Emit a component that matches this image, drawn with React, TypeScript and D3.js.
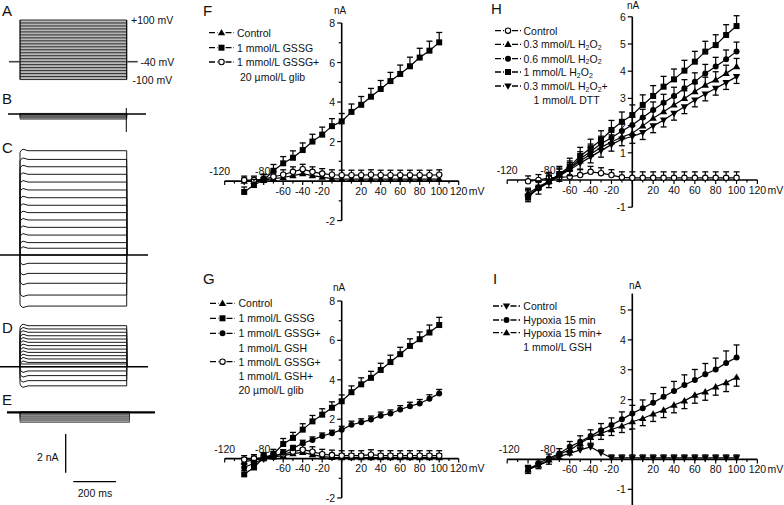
import React from 'react';
import * as d3 from 'd3';

// ---------- data ----------
const VOLTAGES = [-100, -90, -80, -70, -60, -50, -40, -30, -20, -10, 0, 10, 20, 30, 40, 50, 60, 70, 80, 90, 100];

// Panel F
const F_CONTROL = [0.0, 0.0, 0.05, 0.12, 0.18, 0.28, 0.38, 0.28, 0.2, 0.12, 0.1, 0.1, 0.1, 0.1, 0.1, 0.1, 0.1, 0.1, 0.1, 0.1, 0.1];
const F_CONTROL_SEM = [0.15, 0.15, 0.15, 0.18, 0.18, 0.2, 0.2, 0.2, 0.2, 0.2, 0.2, 0.2, 0.2, 0.2, 0.2, 0.2, 0.2, 0.2, 0.2, 0.2, 0.2];
const F_GSSG = [-0.55, -0.2, 0.05, 0.52, 0.9, 1.18, 1.57, 2.0, 2.35, 2.78, 3.02, 3.5, 3.86, 4.27, 4.66, 5.06, 5.42, 5.81, 6.25, 6.6, 7.02];
const F_GSSG_SEM = [0.25, 0.28, 0.3, 0.32, 0.34, 0.35, 0.36, 0.37, 0.38, 0.38, 0.4, 0.4, 0.42, 0.42, 0.43, 0.44, 0.45, 0.46, 0.47, 0.48, 0.5];
const F_GLIB = [0.05, 0.05, 0.1, 0.22, 0.32, 0.47, 0.6, 0.47, 0.38, 0.32, 0.3, 0.3, 0.3, 0.32, 0.3, 0.3, 0.3, 0.3, 0.3, 0.3, 0.32];
const F_GLIB_SEM = [0.2, 0.2, 0.22, 0.25, 0.25, 0.25, 0.25, 0.25, 0.25, 0.25, 0.25, 0.25, 0.25, 0.25, 0.25, 0.25, 0.25, 0.25, 0.25, 0.25, 0.25];

// Panel G
const G_CONTROL = [-0.15, -0.08, 0.0, 0.08, 0.15, 0.25, 0.32, 0.2, 0.1, 0.06, 0.05, 0.05, 0.05, 0.05, 0.05, 0.05, 0.05, 0.05, 0.05, 0.05, 0.05];
const G_CONTROL_SEM = [0.2, 0.2, 0.2, 0.2, 0.2, 0.2, 0.2, 0.2, 0.2, 0.2, 0.2, 0.2, 0.2, 0.2, 0.2, 0.2, 0.2, 0.2, 0.2, 0.2, 0.2];
const G_GSSG = [-0.8, -0.45, 0.05, 0.22, 0.74, 1.05, 1.47, 1.89, 2.23, 2.58, 2.91, 3.37, 3.77, 4.1, 4.5, 4.9, 5.3, 5.72, 6.06, 6.4, 6.78];
const G_GSSG_SEM = [0.2, 0.22, 0.25, 0.25, 0.28, 0.28, 0.3, 0.3, 0.3, 0.3, 0.32, 0.32, 0.33, 0.33, 0.34, 0.35, 0.35, 0.36, 0.37, 0.38, 0.39];
const G_GSH = [-0.45, -0.24, 0.0, 0.1, 0.3, 0.52, 0.78, 0.95, 1.15, 1.29, 1.46, 1.72, 1.84, 1.98, 2.18, 2.29, 2.49, 2.66, 2.8, 3.04, 3.31];
const G_GSH_SEM = [0.15, 0.15, 0.15, 0.15, 0.15, 0.15, 0.15, 0.15, 0.15, 0.15, 0.18, 0.18, 0.18, 0.18, 0.18, 0.18, 0.2, 0.2, 0.2, 0.2, 0.2];
const G_GLIB = [-0.05, 0.0, 0.05, 0.15, 0.22, 0.35, 0.45, 0.35, 0.22, 0.18, 0.15, 0.15, 0.15, 0.2, 0.15, 0.15, 0.15, 0.15, 0.15, 0.15, 0.15];
const G_GLIB_SEM = [0.2, 0.2, 0.2, 0.22, 0.22, 0.25, 0.25, 0.25, 0.25, 0.25, 0.25, 0.25, 0.25, 0.25, 0.25, 0.25, 0.25, 0.25, 0.25, 0.25, 0.25];

// Panel H
const H_CONTROL = [-0.05, 0.0, 0.08, 0.1, 0.12, 0.18, 0.3, 0.25, 0.18, 0.1, 0.08, 0.08, 0.08, 0.08, 0.08, 0.08, 0.08, 0.08, 0.08, 0.08, 0.08];
const H_CONTROL_SEM = [0.2, 0.2, 0.2, 0.2, 0.2, 0.2, 0.2, 0.2, 0.2, 0.2, 0.22, 0.22, 0.22, 0.22, 0.22, 0.22, 0.22, 0.22, 0.22, 0.22, 0.22];
const H_03 = [-0.5, -0.25, -0.05, 0.18, 0.42, 0.7, 0.95, 1.2, 1.4, 1.58, 1.72, 1.99, 2.27, 2.51, 2.76, 3.0, 3.25, 3.49, 3.68, 3.92, 4.17];
const H_03_SEM = [0.2, 0.2, 0.2, 0.22, 0.22, 0.24, 0.25, 0.25, 0.26, 0.26, 0.27, 0.27, 0.28, 0.28, 0.28, 0.28, 0.29, 0.29, 0.3, 0.3, 0.3];
const H_06 = [-0.55, -0.3, -0.06, 0.2, 0.45, 0.78, 1.05, 1.33, 1.55, 1.8, 2.02, 2.3, 2.57, 2.84, 3.09, 3.37, 3.61, 3.92, 4.17, 4.44, 4.72];
const H_06_SEM = [0.2, 0.22, 0.22, 0.24, 0.25, 0.26, 0.27, 0.28, 0.28, 0.29, 0.3, 0.3, 0.3, 0.31, 0.32, 0.32, 0.33, 0.33, 0.34, 0.34, 0.35];
const H_1 = [-0.65, -0.28, -0.05, 0.22, 0.5, 0.88, 1.17, 1.47, 1.84, 2.14, 2.39, 2.76, 3.09, 3.43, 3.7, 4.02, 4.35, 4.72, 4.96, 5.33, 5.66];
const H_1_SEM = [0.25, 0.25, 0.27, 0.28, 0.3, 0.32, 0.33, 0.34, 0.35, 0.36, 0.37, 0.37, 0.38, 0.38, 0.38, 0.38, 0.38, 0.38, 0.38, 0.38, 0.38];
const H_DTT = [-0.6, -0.32, -0.08, 0.15, 0.38, 0.62, 0.85, 1.08, 1.3, 1.5, 1.6, 1.74, 1.99, 2.2, 2.45, 2.69, 2.94, 3.16, 3.37, 3.58, 3.8];
const H_DTT_SEM = [0.2, 0.2, 0.2, 0.2, 0.22, 0.22, 0.22, 0.24, 0.24, 0.24, 0.25, 0.25, 0.25, 0.25, 0.25, 0.25, 0.25, 0.25, 0.25, 0.25, 0.25];

// Panel I
const I_CONTROL = [-0.3, -0.2, -0.05, 0.1, 0.2, 0.32, 0.42, 0.22, 0.05, 0.05, 0.05, 0.05, 0.05, 0.05, 0.05, 0.05, 0.05, 0.05, 0.05, 0.05, 0.05];
const I_CONTROL_SEM = [0.1, 0.1, 0.1, 0.1, 0.1, 0.1, 0.1, 0.1, 0.1, 0.1, 0.1, 0.1, 0.1, 0.1, 0.1, 0.1, 0.1, 0.1, 0.1, 0.1, 0.1];
const I_HYPOXIA = [-0.35, -0.13, 0.04, 0.2, 0.42, 0.59, 0.78, 0.98, 1.15, 1.34, 1.54, 1.71, 1.9, 2.1, 2.29, 2.49, 2.66, 2.85, 3.01, 3.23, 3.41];
const I_HYPOXIA_SEM = [0.1, 0.12, 0.14, 0.16, 0.18, 0.2, 0.21, 0.22, 0.24, 0.25, 0.27, 0.28, 0.3, 0.31, 0.32, 0.34, 0.35, 0.36, 0.38, 0.4, 0.42];
const I_GSH = [-0.35, -0.19, -0.02, 0.18, 0.31, 0.54, 0.74, 0.87, 1.0, 1.12, 1.26, 1.37, 1.52, 1.65, 1.82, 1.96, 2.15, 2.26, 2.43, 2.57, 2.75];
const I_GSH_SEM = [0.12, 0.12, 0.14, 0.15, 0.16, 0.18, 0.2, 0.2, 0.2, 0.22, 0.24, 0.24, 0.25, 0.25, 0.26, 0.26, 0.27, 0.28, 0.28, 0.3, 0.3];

// Trace panels (A–E)
const A_STEPS_MV = [100, 90, 80, 70, 60, 50, 40, 30, 20, 10, 0, -10, -20, -30, -40, -50, -60, -70, -80, -90, -100];
const B_LEVELS_NA = [0.03, 0.0, -0.05, -0.1, -0.15, -0.2, -0.27];
const C_LEVELS_NA = [5.39, 4.94, 4.56, 4.17, 3.77, 3.36, 2.96, 2.57, 2.19, 1.81, 1.43, 1.03, 0.64, 0.35, 0, -0.43, -0.95, -1.46, -2.07, -2.64];
const D_LEVELS_NA = [2.12, 1.95, 1.78, 1.6, 1.43, 1.26, 1.09, 0.91, 0.74, 0.57, 0.4, 0.22, 0.14, 0, -0.22, -0.46, -0.72, -0.99];
const E_LEVELS_NA = [0.03, 0.0, -0.1, -0.2, -0.3, -0.4, -0.52];

const FONT = '"Liberation Sans", Arial, Helvetica, sans-serif';

type Marker = 'tri' | 'itri' | 'square' | 'circle' | 'ocircle';

function Sym({ type, x, y }: { type: Marker; x: number; y: number }) {
  switch (type) {
    case 'square':
      return <rect x={x - 3} y={y - 3} width={6} height={6} fill="#000" />;
    case 'circle':
      return <circle cx={x} cy={y} r={3} fill="#000" />;
    case 'ocircle':
      return <circle cx={x} cy={y} r={2.7} fill="#fff" stroke="#000" strokeWidth={1.1} />;
    case 'tri':
      return <path d={`M${x},${y - 3.8}L${x + 3.7},${y + 2.6}L${x - 3.7},${y + 2.6}Z`} fill="#000" />;
    case 'itri':
      return <path d={`M${x},${y + 3.8}L${x + 3.7},${y - 2.6}L${x - 3.7},${y - 2.6}Z`} fill="#000" />;
  }
  return null;
}

function Label({ text, x, y, anchor = 'start', size = 10.5 }: { text: string; x: number; y: number; anchor?: string; size?: number }) {
  const parts = text.split('H2O2');
  if (parts.length === 1) {
    return (
      <text x={x} y={y} fontSize={size} fontFamily={FONT} textAnchor={anchor} dominantBaseline="central" fill="#111">
        {text}
      </text>
    );
  }
  return (
    <text x={x} y={y} fontSize={size} fontFamily={FONT} textAnchor={anchor} dominantBaseline="central" fill="#111">
      {parts[0]}H
      <tspan dy={2.5} fontSize={7}>2</tspan>
      <tspan dy={-2.5}>O</tspan>
      <tspan dy={2.5} fontSize={7}>2</tspan>
      <tspan dy={-2.5}>{parts[1]}</tspan>
    </text>
  );
}

interface Series { values: number[]; sem: number[]; marker: Marker; down?: boolean }
interface LegendEntry { lines: string[]; marker: Marker; y: number }
interface PanelCfg {
  letter: string; letterPos: [number, number];
  xRange: [number, number]; yDomain: [number, number]; yRange: [number, number];
  yAxisExtent: [number, number];
  yLabels: number[]; yMinor: number[];
  nAPos: [number, number];
  series: Series[];
  legend: { x1: number; x2: number; tx: number; indent: number; lh: number; entries: LegendEntry[] };
  topLabelShift: number;
}

const X_BOTTOM_LABELS = [-60, -40, -20, 20, 40, 60, 80, 100];
const X_TICKS = [-120, -110, -100, -90, -80, -70, -60, -50, -40, -30, -20, -10, 0, 10, 20, 30, 40, 50, 60, 70, 80, 90, 100, 110, 120];

function IVPanel({ cfg }: { cfg: PanelCfg }) {
  const x = d3.scaleLinear().domain([-120, 120]).range(cfg.xRange);
  const y = d3.scaleLinear().domain(cfg.yDomain).range(cfg.yRange);
  const x0 = x(0);
  const y0 = y(0);
  const line = d3.line<[number, number]>().x((d) => x(d[0])).y((d) => y(d[1]));
  const { legend } = cfg;
  return (
    <g>
      <text x={cfg.letterPos[0]} y={cfg.letterPos[1]} fontSize={15} fontFamily={FONT} dominantBaseline="central" fill="#111">
        {cfg.letter}
      </text>
      {/* axes */}
      <line x1={x(-120)} x2={x(120)} y1={y0} y2={y0} stroke="#000" strokeWidth={1.6} />
      <line x1={x0} x2={x0} y1={y(cfg.yAxisExtent[1])} y2={y(cfg.yAxisExtent[0])} stroke="#000" strokeWidth={1.6} />
      {X_TICKS.map((t) => (
        <line key={'xt' + t} x1={x(t)} x2={x(t)} y1={y0} y2={y0 + (t % 20 === 0 ? 4 : 2.5)} stroke="#000" strokeWidth={1.2} />
      ))}
      {cfg.yLabels.concat(cfg.yMinor).map((t) => (
        <line key={'yt' + t} x1={x0 - (cfg.yLabels.includes(t) ? 4.5 : 3)} x2={x0} y1={y(t)} y2={y(t)} stroke="#000" strokeWidth={1.2} />
      ))}
      {cfg.yLabels.map((t) => (
        <text key={'yl' + t} x={x0 - 6.5} y={y(t)} fontSize={10.5} fontFamily={FONT} textAnchor="end" dominantBaseline="central" fill="#111">
          {t}
        </text>
      ))}
      <text x={cfg.nAPos[0]} y={cfg.nAPos[1]} fontSize={10} fontFamily={FONT} textAnchor="middle" dominantBaseline="central" fill="#111">nA</text>
      {X_BOTTOM_LABELS.map((t) => (
        <text key={'xl' + t} x={x(t)} y={y0 + 9.5} fontSize={10.5} fontFamily={FONT} textAnchor="middle" dominantBaseline="central" fill="#111">
          {t}
        </text>
      ))}
      <text x={x(120)} y={y0 + 9.5} fontSize={10.5} fontFamily={FONT} textAnchor="middle" dominantBaseline="central" fill="#111">120</text>
      <text x={x(120) + 10} y={y0 + 9.5} fontSize={10.5} fontFamily={FONT} textAnchor="start" dominantBaseline="central" fill="#111">mV</text>
      <text x={x(-120) + cfg.topLabelShift} y={y0 - 10} fontSize={10.5} fontFamily={FONT} textAnchor="middle" dominantBaseline="central" fill="#111">-120</text>
      <text x={x(-80) - 1} y={y0 - 10} fontSize={10.5} fontFamily={FONT} textAnchor="middle" dominantBaseline="central" fill="#111">-80</text>
      {/* series */}
      {cfg.series.map((s, si) => {
        const pts: [number, number][] = VOLTAGES.map((v, i) => [v, s.values[i]]);
        return (
          <g key={'s' + si}>
            <path d={line(pts) || ''} fill="none" stroke="#000" strokeWidth={1.2} />
            {VOLTAGES.map((v, i) => {
              const yv = y(s.values[i]);
              const ye = y(s.values[i] + (s.down ? -s.sem[i] : s.sem[i]));
              return (
                <g key={'e' + i}>
                  <line x1={x(v)} x2={x(v)} y1={yv} y2={ye} stroke="#000" strokeWidth={1.2} />
                  <line x1={x(v) - 3} x2={x(v) + 3} y1={ye} y2={ye} stroke="#000" strokeWidth={1.3} />
                </g>
              );
            })}
            {VOLTAGES.map((v, i) => (
              <Sym key={'m' + i} type={s.marker} x={x(v)} y={y(s.values[i])} />
            ))}
          </g>
        );
      })}
      {/* legend */}
      {legend.entries.map((e, ei) => {
        const mx = (legend.x1 + legend.x2) / 2;
        return (
          <g key={'lg' + ei}>
            <line x1={legend.x1} x2={mx - 4} y1={e.y} y2={e.y} stroke="#000" strokeWidth={1.3} strokeDasharray="6,2" />
            <line x1={mx + 4} x2={legend.x2} y1={e.y} y2={e.y} stroke="#000" strokeWidth={1.3} strokeDasharray="6,2" />
            <Sym type={e.marker} x={mx} y={e.y} />
            {e.lines.map((l, li) => (
              <Label key={li} text={l} x={legend.tx + (li > 0 ? legend.indent : 0)} y={e.y + li * legend.lh} />
            ))}
          </g>
        );
      })}
    </g>
  );
}

const PANELS: PanelCfg[] = [
  {
    letter: 'F', letterPos: [203, 10],
    xRange: [224.7, 458.7], yDomain: [-2, 8], yRange: [220.6, 23], yAxisExtent: [-2, 8],
    yLabels: [8, 6, 4, 2, -2], yMinor: [7, 5, 3, 1, -1],
    nAPos: [340, 10],
    series: [
      { values: F_CONTROL, sem: F_CONTROL_SEM, marker: 'tri' },
      { values: F_GLIB, sem: F_GLIB_SEM, marker: 'ocircle' },
      { values: F_GSSG, sem: F_GSSG_SEM, marker: 'square' },
    ],
    legend: {
      x1: 209, x2: 234, tx: 237, indent: 3, lh: 15,
      entries: [
        { lines: ['Control'], marker: 'tri', y: 32.7 },
        { lines: ['1 mmol/L GSSG'], marker: 'square', y: 47.7 },
        { lines: ['1 mmol/L GSSG+', '20 µmol/L glib'], marker: 'ocircle', y: 62 },
      ],
    },
    topLabelShift: -5,
  },
  {
    letter: 'H', letterPos: [491, 8],
    xRange: [507.2, 757.4], yDomain: [-1, 6], yRange: [207.2, 16.8], yAxisExtent: [-1, 6],
    yLabels: [6, 5, 4, 3, 2, 1, -1], yMinor: [],
    nAPos: [633, 5],
    series: [
      { values: H_CONTROL, sem: H_CONTROL_SEM, marker: 'ocircle' },
      { values: H_DTT, sem: H_DTT_SEM, marker: 'itri', down: true },
      { values: H_03, sem: H_03_SEM, marker: 'tri' },
      { values: H_06, sem: H_06_SEM, marker: 'circle' },
      { values: H_1, sem: H_1_SEM, marker: 'square' },
    ],
    legend: {
      x1: 495, x2: 521, tx: 523.5, indent: 10, lh: 14,
      entries: [
        { lines: ['Control'], marker: 'ocircle', y: 30.7 },
        { lines: ['0.3 mmol/L H2O2'], marker: 'tri', y: 44.3 },
        { lines: ['0.6 mmol/L H2O2'], marker: 'circle', y: 58.7 },
        { lines: ['1 mmol/L H2O2'], marker: 'square', y: 72 },
        { lines: ['0.3 mmol/L H2O2+', '1 mmol/L DTT'], marker: 'itri', y: 86 },
      ],
    },
    topLabelShift: 0,
  },
  {
    letter: 'G', letterPos: [203, 278],
    xRange: [224.7, 458.7], yDomain: [-2, 8], yRange: [498, 301], yAxisExtent: [-2, 8],
    yLabels: [8, 6, 4, 2, -2], yMinor: [7, 5, 3, 1, -1],
    nAPos: [339, 287],
    series: [
      { values: G_CONTROL, sem: G_CONTROL_SEM, marker: 'tri' },
      { values: G_GLIB, sem: G_GLIB_SEM, marker: 'ocircle' },
      { values: G_GSH, sem: G_GSH_SEM, marker: 'circle' },
      { values: G_GSSG, sem: G_GSSG_SEM, marker: 'square' },
    ],
    legend: {
      x1: 210, x2: 235, tx: 238.5, indent: 0, lh: 14.2,
      entries: [
        { lines: ['Control'], marker: 'tri', y: 303.3 },
        { lines: ['1 mmol/L GSSG'], marker: 'square', y: 318.3 },
        { lines: ['1 mmol/L GSSG+', '1 mmol/L GSH'], marker: 'circle', y: 333.3 },
        { lines: ['1 mmol/L GSSG+', '1 mmol/L GSH+', '20 µmol/L glib'], marker: 'ocircle', y: 361.7 },
      ],
    },
    topLabelShift: 0,
  },
  {
    letter: 'I', letterPos: [493, 278],
    xRange: [507.2, 757.4], yDomain: [-1, 5], yRange: [489.3, 310], yAxisExtent: [-1.55, 5.55],
    yLabels: [5, 4, 3, 2, -1], yMinor: [1],
    nAPos: [635, 285],
    series: [
      { values: I_CONTROL, sem: I_CONTROL_SEM, marker: 'itri' },
      { values: I_GSH, sem: I_GSH_SEM, marker: 'tri', down: true },
      { values: I_HYPOXIA, sem: I_HYPOXIA_SEM, marker: 'circle' },
    ],
    legend: {
      x1: 493, x2: 520, tx: 523.3, indent: 0, lh: 14,
      entries: [
        { lines: ['Control'], marker: 'itri', y: 306 },
        { lines: ['Hypoxia 15 min'], marker: 'circle', y: 320 },
        { lines: ['Hypoxia 15 min+', '1 mmol/L GSH'], marker: 'tri', y: 332.7 },
      ],
    },
    topLabelShift: 2,
  },
];

// ---------- trace panels ----------
const tScale = d3.scaleLinear().domain([0, 500]).range([20, 126.7]);
const NA_PX = 19.35;

function TracePanel({ levels, base, xStart, xEnd, band, curl, endX, baseWidth = 1.4 }: { levels: number[]; base: number; xStart: number; xEnd: number; band?: boolean; curl?: boolean; endX?: number; baseWidth?: number }) {
  const yS = d3.scaleLinear().domain([0, 1]).range([base, base - NA_PX]);
  const xa = tScale(0);
  const xb = endX ?? tScale(500);
  const top = Math.min(...levels.map((l) => yS(l)));
  const bot = Math.max(...levels.map((l) => yS(l)));
  return (
    <g>
      {band && <rect x={xa} y={top} width={xb - xa} height={bot - top} fill="#a8a8a8" />}
      {levels.map((l, i) => {
        const yl = yS(l);
        const c = curl && Math.abs(l) > 0.2 ? (l > 0 ? -1.5 : 1.5) : 0;
        const d = c
          ? `M${xa},${base}L${xa},${yl + (l > 0 ? 2 : -2)}Q${xa},${yl} ${xa + 3},${yl + c}L${xa + 8},${yl}L${xb},${yl}L${xb},${base}`
          : `M${xa},${base}L${xa},${yl}L${xb},${yl}L${xb},${base}`;
        return <path key={i} d={d} fill="none" stroke={band ? '#333' : '#1a1a1a'} strokeWidth={band ? 0.7 : 1} />;
      })}
      <line x1={xStart} x2={xEnd} y1={base} y2={base} stroke="#000" strokeWidth={baseWidth} />
    </g>
  );
}

function PanelA() {
  const yV = d3.scaleLinear().domain([-40, 100]).range([61.7, 20]);
  const xa = tScale(0);
  const xb = tScale(500);
  return (
    <g>
      <rect x={xa} y={yV(100)} width={xb - xa} height={yV(-100) - yV(100)} fill="#b8b8b8" />
      {A_STEPS_MV.map((v) => (
        <line key={v} x1={xa} x2={xb} y1={yV(v)} y2={yV(v)} stroke="#2a2a2a" strokeWidth={1} />
      ))}
      <line x1={xa} x2={xa} y1={yV(100)} y2={yV(-100)} stroke="#000" strokeWidth={1.2} />
      <line x1={xb} x2={xb} y1={yV(100)} y2={yV(-100)} stroke="#000" strokeWidth={1.2} />
      <line x1={9} x2={xa} y1={yV(-40)} y2={yV(-40)} stroke="#444" strokeWidth={1.6} />
      <line x1={xb} x2={137.7} y1={yV(-40)} y2={yV(-40)} stroke="#444" strokeWidth={1.6} />
      <text x={131} y={yV(100)} fontSize={10.5} fontFamily={FONT} dominantBaseline="central" fill="#111">+100 mV</text>
      <text x={140.5} y={yV(-40)} fontSize={10.5} fontFamily={FONT} dominantBaseline="central" fill="#111">-40 mV</text>
      <text x={132.5} y={yV(-100)} fontSize={10.5} fontFamily={FONT} dominantBaseline="central" fill="#111">-100 mV</text>
    </g>
  );
}

function App() {
  const letters: [string, number][] = [['A', 10], ['B', 98], ['C', 147], ['D', 327], ['E', 399]];
  return (
    <svg width={784} height={505} style={{ position: 'absolute', left: 0, top: 0, background: '#fff' }}>
      <rect x={0} y={0} width={784} height={505} fill="#fff" />
      {letters.map(([l, yy]) => (
        <text key={l} x={2} y={yy} fontSize={15} fontFamily={FONT} dominantBaseline="central" fill="#111">{l}</text>
      ))}
      <PanelA />
      <TracePanel levels={B_LEVELS_NA} base={114} xStart={8} xEnd={146} band />
      <line x1={126.3} x2={126.3} y1={108} y2={132} stroke="#000" strokeWidth={1} />
      <TracePanel levels={C_LEVELS_NA} base={255} xStart={0} xEnd={148} curl />
      <TracePanel levels={D_LEVELS_NA} base={366.7} xStart={0} xEnd={148} curl />
      <TracePanel levels={E_LEVELS_NA} base={412.3} xStart={7} xEnd={155} band endX={129.5} baseWidth={2.2} />
      {/* scale bars */}
      <line x1={65.7} x2={65.7} y1={434} y2={434 + 2 * NA_PX} stroke="#000" strokeWidth={1.3} />
      <text x={58.5} y={457} fontSize={10.5} fontFamily={FONT} textAnchor="end" dominantBaseline="central" fill="#111">2 nA</text>
      <line x1={tScale(0) + 53.3} x2={tScale(200) + 53.3} y1={481.7} y2={481.7} stroke="#000" strokeWidth={1.3} />
      <text x={95} y={493} fontSize={10.5} fontFamily={FONT} textAnchor="middle" dominantBaseline="central" fill="#111">200 ms</text>
      {PANELS.map((p) => (
        <IVPanel key={p.letter} cfg={p} />
      ))}
    </svg>
  );
}

export default App;
